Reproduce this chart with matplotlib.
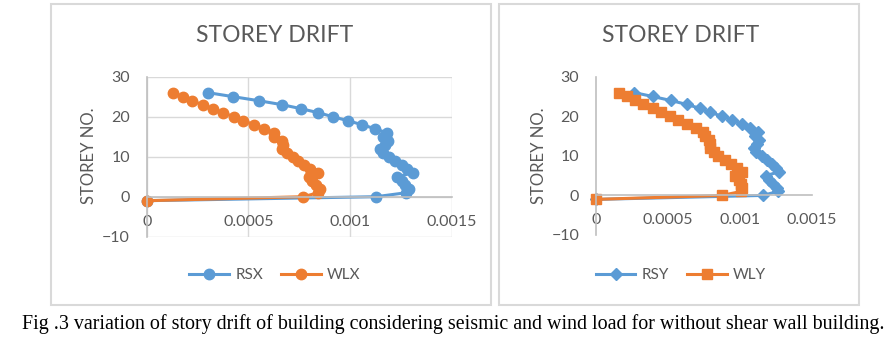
"""
Purpose: Storey drift plots (seismic vs wind) for building without shear wall
"""

import numpy as np
from matplotlib import pyplot as plt
from matplotlib.patches import Rectangle

# storey numbers, top to bottom
storeys = [26, 25, 24, 23, 22, 21, 20, 19, 18, 17, 16, 15, 14, 13, 12, 11,
        10, 9, 8, 7, 6, 5, 4, 3, 2, 1, 0, -1]
# drift in X direction
rsx = [0.000303, 0.000426, 0.000551, 0.000666, 0.000759, 0.000844, 0.000915,
        0.000989, 0.001059, 0.001122, 0.00118, 0.00116, 0.001185, 0.001172,
        0.001148, 0.001164, 0.00119, 0.00122, 0.001254, 0.001282, 0.001311,
        0.001233, 0.001254, 0.00127, 0.00129, 0.001277, 0.001128, 0]
wlx = [0.000131, 0.000177, 0.000221, 0.000275, 0.000325, 0.000374, 0.000429,
        0.000475, 0.000528, 0.000577, 0.000626, 0.000627, 0.000664, 0.00067,
        0.000664, 0.000692, 0.000721, 0.000746, 0.000774, 0.000803, 0.000841,
        0.0008, 0.000812, 0.000833, 0.000852, 0.000844, 0.00077, 0]
# drift in Y direction
rsy = [0.000264, 0.000394, 0.000519, 0.00063, 0.000723, 0.000793, 0.000878,
        0.000948, 0.001013, 0.001071, 0.001129, 0.001106, 0.001136, 0.00112,
        0.0011, 0.001115, 0.001152, 0.001187, 0.001222, 0.001252, 0.001275,
        0.001182, 0.001206, 0.00123, 0.001259, 0.001264, 0.00116, 0]
wly = [0.000162, 0.000213, 0.000271, 0.000329, 0.000394, 0.000452, 0.000515,
        0.000572, 0.00063, 0.000693, 0.000746, 0.000758, 0.000788, 0.00079,
        0.000793, 0.000821, 0.000851, 0.000897, 0.000937, 0.000978, 0.001013,
        0.000967, 0.000997, 0.001006, 0.001017, 0.00101, 0.000874, 0]

x_ticks = [0, 0.0005, 0.001, 0.0015]
x_tick_labels = ['0', '0.0005', '0.001', '0.0015']
y_ticks = [-10, 0, 10, 20, 30]

BLUE = '#5B9BD5'
ORANGE = '#ED7D31'
TXT = '#595959'
FONT = 'Lato'
W, H = 889, 338


def fx(px):
    return px / W
# enddef fx() #


def fy(py):
    return 1 - py / H
# enddef fy() #


def setup_axes(a_ax, a_grid):
    """ Excel-like axes: axis lines through zero, labels next to them """
    a_ax.set_xlim(0, 0.0015)
    a_ax.set_ylim(-10, 30)
    a_ax.set_xticks(x_ticks)
    a_ax.set_xticklabels(x_tick_labels)
    a_ax.set_yticks(y_ticks)
    a_ax.spines['top'].set_visible(False)
    a_ax.spines['right'].set_visible(False)
    a_ax.spines['bottom'].set_position(('data', 0))
    for s in ['left', 'bottom']:
        a_ax.spines[s].set_color('#bfbfbf')
        a_ax.spines[s].set_linewidth(1.2)
    # endfor #
    a_ax.tick_params(length=0, labelsize=11.5, labelcolor=TXT)
    a_ax.tick_params(axis='x', pad=13)
    a_ax.tick_params(axis='y', pad=12)
    for lbl in a_ax.get_xticklabels() + a_ax.get_yticklabels():
        lbl.set_fontfamily(FONT)
    # endfor #
    if a_grid:
        a_ax.grid(True, color='#d9d9d9', linewidth=1.0)
        a_ax.set_axisbelow(True)
    # endif #
    a_ax.set_facecolor('none')
# enddef setup_axes() #


fig = plt.figure(figsize=(W / 100, H / 100), dpi=100)

# chart borders
for x0, x1 in [(51, 491), (499, 859)]:
    fig.patches.append(Rectangle((fx(x0), fy(305)), fx(x1) - fx(x0),
            fy(4) - fy(305), transform=fig.transFigure, fill=False,
            edgecolor='#d9d9d9', linewidth=1.5))
# endfor #

# left chart
ax1 = fig.add_axes([fx(146.7), fy(236.7), fx(451.7) - fx(146.7),
        fy(76.7) - fy(236.7)])
setup_axes(ax1, True)
ax1.plot(rsx, storeys, color=BLUE, lw=2.2, marker='o', ms=7.5,
        clip_on=False, label='RSX')
ax1.plot(wlx, storeys, color=ORANGE, lw=2.2, marker='o', ms=7.5,
        clip_on=False, label='WLX')

# right chart
ax2 = fig.add_axes([fx(596), fy(235), fx(811.7) - fx(596),
        fy(76.7) - fy(235)])
setup_axes(ax2, False)
ax2.plot(rsy, storeys, color=BLUE, lw=2.2, marker='D', ms=6.5,
        clip_on=False, label='RSY')
ax2.plot(wly, storeys, color=ORANGE, lw=2.2, marker='s', ms=7,
        clip_on=False, label='WLY')

for ax, cx, lx in [(ax1, 275, 89), (ax2, 681, 539)]:
    fig.text(fx(cx), fy(36), 'STOREY DRIFT', ha='center', va='center',
            fontsize=16.5, color=TXT, family=FONT)
    fig.text(fx(lx), fy(156), 'STOREY NO.', ha='center', va='center',
            rotation=90, fontsize=12, color=TXT, family=FONT)
    leg = ax.legend(loc='center', bbox_to_anchor=(fx(cx), fy(275)),
            bbox_transform=fig.transFigure, ncol=2, frameon=False,
            handlelength=2.6, handletextpad=0.4, columnspacing=1.2,
            prop={'family': FONT, 'size': 11})
    for t in leg.get_texts():
        t.set_color(TXT)
    # endfor #
# endfor #

fig.text(fx(453), fy(324), 'Fig .3 variation of story drift of building '
        'considering seismic and wind load for without shear wall building.',
        ha='center', va='center', fontsize=14.4, family='Liberation Serif',
        color='black')

plt.savefig('out.png', dpi=100)
